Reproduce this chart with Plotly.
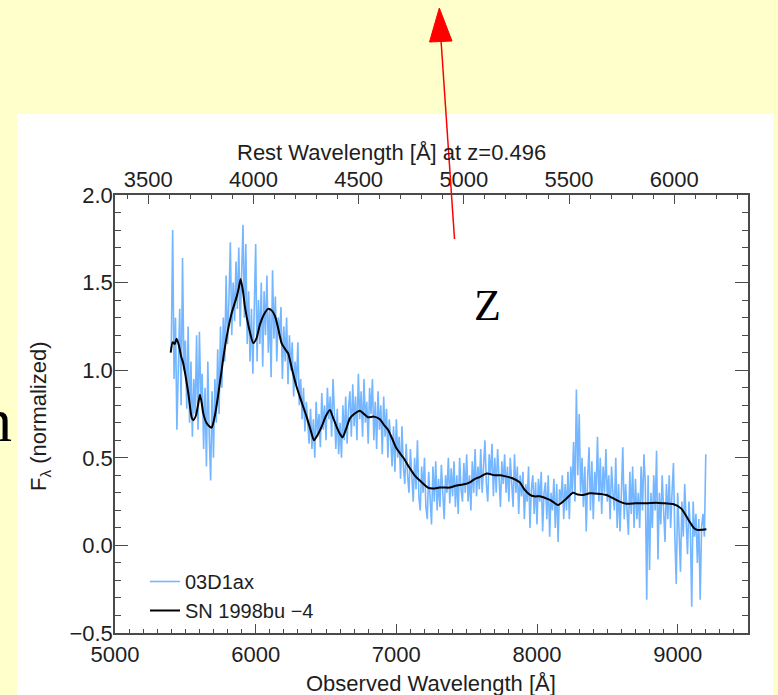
import plotly.graph_objects as go

# Redshift of 03D1ax
Z_SN = 0.496

# Observed spectrum of 03D1ax (observed wavelength [A], normalized flux), 10 A bins
obs_wave = list(range(5400, 9201, 10))
obs_flux = [
    1.12, 1.80, 0.95, 1.30, 0.66, 1.05, 1.35, 0.80, 1.64, 1.00,
    1.17, 0.78, 1.25, 0.70, 1.05, 0.62, 0.95, 0.75, 1.20, 0.66,
    1.22, 0.85, 0.98, 0.55, 0.90, 0.45, 1.05, 0.62, 0.37, 0.88,
    0.50, 0.95, 0.70, 1.12, 0.75, 1.25, 0.90, 1.30, 1.05, 1.54,
    1.15, 1.40, 1.73, 1.20, 1.50, 1.28, 1.62, 1.35, 1.70, 1.25,
    1.55, 1.83, 1.30, 1.72, 1.15, 1.45, 1.05, 1.35, 0.98, 1.30,
    1.72, 1.05, 1.40, 1.15, 1.50, 1.02, 1.45, 1.20, 1.54, 1.10,
    1.35, 0.96, 1.57, 1.18, 1.42, 1.05, 1.30, 1.20, 1.36, 0.95,
    1.25, 1.05, 1.30, 0.92, 1.20, 1.00, 1.16, 0.85, 1.05, 0.92,
    1.16, 0.80, 0.95, 0.72, 0.90, 0.65, 0.82, 0.70, 0.58, 0.78,
    0.55, 0.72, 0.50, 0.82, 0.62, 0.75, 0.56, 0.87, 0.66, 0.80,
    0.60, 0.90, 0.72, 0.85, 0.62, 0.95, 0.70, 0.55, 0.78, 0.52,
    0.70, 0.50, 0.80, 0.60, 0.85, 0.58, 0.78, 0.88, 0.62, 0.92,
    0.68, 0.85, 0.60, 0.98, 0.72, 0.88, 0.62, 0.95, 0.70, 0.82,
    0.58, 0.90, 0.75, 0.95, 0.60, 0.82, 0.55, 0.88, 0.66, 0.80,
    0.52, 0.85, 0.62, 0.78, 0.50, 0.72, 0.60, 0.45, 0.68, 0.42,
    0.72, 0.50, 0.62, 0.38, 0.68, 0.45, 0.35, 0.58, 0.40, 0.30,
    0.55, 0.38, 0.25, 0.50, 0.32, 0.60, 0.28, 0.20, 0.45, 0.30,
    0.50, 0.22, 0.15, 0.42, 0.30, 0.12, 0.45, 0.25, 0.48, 0.20,
    0.38, 0.22, 0.46, 0.28, 0.15, 0.40, 0.30, 0.50, 0.24, 0.44,
    0.28, 0.48, 0.22, 0.40, 0.18, 0.50, 0.32, 0.25, 0.47, 0.30,
    0.52, 0.25, 0.40, 0.20, 0.48, 0.30, 0.55, 0.28, 0.45, 0.32,
    0.55, 0.30, 0.48, 0.60, 0.35, 0.25, 0.52, 0.40, 0.58, 0.28,
    0.50, 0.30, 0.55, 0.38, 0.22, 0.48, 0.35, 0.52, 0.30, 0.45,
    0.25, 0.50, 0.38, 0.22, 0.52, 0.30, 0.45, 0.18, 0.40, 0.28,
    0.42, 0.15, 0.35, 0.25, 0.45, 0.10, 0.32, 0.40, 0.18, 0.36,
    0.12, 0.38, 0.25, 0.42, 0.08, 0.30, 0.36, 0.15, 0.40, 0.05,
    0.30, 0.20, 0.38, 0.10, 0.35, 0.02, 0.32, 0.25, 0.40, 0.15,
    0.35, 0.20, 0.42, 0.15, 0.45, 0.30, 0.59, 0.25, 0.89, 0.40,
    0.75, 0.30, 0.50, 0.22, 0.45, 0.08, 0.38, 0.56, 0.20, 0.48,
    0.15, 0.42, 0.30, 0.62, 0.25, 0.50, 0.18, 0.45, 0.30, 0.55,
    0.25, 0.40, 0.15, 0.45, 0.30, 0.20, 0.50, 0.10, 0.35, 0.08,
    0.30, 0.56, 0.15, 0.35, 0.20, 0.06, 0.42, 0.18, 0.45, 0.10,
    0.38, 0.15, 0.30, 0.10, 0.45, 0.20, 0.52, 0.35, -0.31, 0.40,
    -0.14, 0.30, 0.10, 0.40, 0.20, 0.54, -0.08, 0.30, 0.12, 0.40,
    0.20, 0.02, 0.35, 0.15, 0.40, 0.10, 0.30, 0.47, 0.05, -0.22,
    0.30, 0.10, -0.15, 0.25, 0.05, 0.35, 0.15, -0.05, 0.25, 0.10,
    -0.35, 0.25, 0.05, 0.18, -0.10, 0.15, -0.31, 0.10, 0.18, 0.05,
    0.52,
]

# SN 1998bu template at -4 days, redshifted to z=0.496 (observed wavelength [A])
tmpl_wave = [
    5396, 5410, 5425, 5438, 5455, 5470, 5485, 5503, 5521, 5545,
    5556, 5575, 5590, 5604, 5615, 5627, 5650, 5670, 5687, 5710,
    5730, 5746, 5770, 5794, 5829, 5850, 5865, 5880, 5893, 5910,
    5924, 5950, 5983, 6005, 6030, 6060, 6089, 6115, 6137, 6160,
    6184, 6210, 6231, 6260, 6291, 6330, 6362, 6390, 6414, 6440,
    6469, 6500, 6528, 6550, 6575, 6600, 6618, 6645, 6670, 6700,
    6741, 6770, 6800, 6840, 6883, 6910, 6942, 6970, 7001, 7050,
    7096, 7130, 7167, 7224, 7260, 7309, 7340, 7380, 7420, 7451,
    7490, 7522, 7560, 7593, 7643, 7700, 7740, 7771, 7821, 7877,
    7910, 7948, 7980, 8020, 8060, 8091, 8120, 8150, 8200, 8256,
    8290, 8327, 8375, 8430, 8493, 8540, 8588, 8635, 8700, 8778,
    8849, 8910, 8967, 9026, 9085, 9115, 9144, 9175, 9204,
]
tmpl_flux = [
    1.10, 1.16, 1.15, 1.18, 1.14, 1.08, 1.04, 0.96, 0.87, 0.73,
    0.715, 0.74, 0.80, 0.86, 0.82, 0.755, 0.70, 0.68, 0.672, 0.74,
    0.84, 0.93, 1.07, 1.19, 1.325, 1.38, 1.42, 1.47, 1.52, 1.45,
    1.36, 1.25, 1.155, 1.18, 1.26, 1.32, 1.35, 1.34, 1.31, 1.24,
    1.155, 1.12, 1.096, 1.00, 0.906, 0.81, 0.735, 0.66, 0.60, 0.63,
    0.678, 0.74, 0.773, 0.73, 0.678, 0.635, 0.617, 0.67, 0.725, 0.75,
    0.769, 0.75, 0.731, 0.735, 0.72, 0.69, 0.659, 0.61, 0.554, 0.50,
    0.44, 0.40, 0.37, 0.33, 0.325, 0.33, 0.33, 0.33, 0.34, 0.345,
    0.35, 0.36, 0.38, 0.39, 0.41, 0.40, 0.40, 0.395, 0.385, 0.36,
    0.32, 0.29, 0.28, 0.28, 0.27, 0.26, 0.245, 0.23, 0.26, 0.30,
    0.29, 0.288, 0.297, 0.295, 0.288, 0.27, 0.25, 0.238, 0.24, 0.24,
    0.244, 0.24, 0.236, 0.21, 0.135, 0.10, 0.088, 0.09, 0.092,
]
# Template plotted against the rest-frame axis
tmpl_rest = [w / (1 + Z_SN) for w in tmpl_wave]

obs_range = [5000, 9500]
rest_range = [obs_range[0] / (1 + Z_SN), obs_range[1] / (1 + Z_SN)]

W, H = 778, 695
L, R, T, B = 115, 748, 195, 633   # plot-area edges in pixels


def px(x):
    return (x - L) / (R - L)


def py(y):
    return (B - y) / (B - T)


FONT = "Liberation Sans, Arial, Helvetica, sans-serif"
SERIF = "Liberation Serif, Times New Roman, serif"
AXC = "#4a4a4a"
TXT = "#1e1e1e"
FS = 22

fig = go.Figure()
fig.add_trace(go.Scatter(
    x=obs_wave, y=obs_flux, mode="lines", name="03D1ax",
    line=dict(color="#74B6FF", width=1.6), xaxis="x", yaxis="y",
))
fig.add_trace(go.Scatter(
    x=tmpl_rest, y=tmpl_flux, mode="lines", name="SN 1998bu \u22124",
    line=dict(color="black", width=2, shape="spline", smoothing=0.6),
    xaxis="x2", yaxis="y",
))

tick_common = dict(
    ticks="inside", tickcolor=AXC, tickwidth=1.3,
    showline=True, linecolor=AXC, linewidth=1.5,
    showgrid=False, zeroline=False,
    tickfont=dict(family=FONT, size=FS, color=TXT),
)

fig.update_layout(
    width=W, height=H, autosize=False,
    margin=dict(l=L, r=W - R, t=T, b=H - B, pad=0),
    paper_bgcolor="#FFFFCC", plot_bgcolor="white",
    font=dict(family=FONT, color=TXT),
    xaxis=dict(
        range=obs_range, tick0=5000, dtick=1000, ticklen=9,
        ticklabelstandoff=1,
        minor=dict(dtick=100, ticklen=4.5, ticks="inside", tickcolor=AXC, tickwidth=1.1),
        **tick_common,
    ),
    xaxis2=dict(
        range=rest_range, overlaying="x", side="top", anchor="y",
        tick0=3500, dtick=500, ticklen=9, ticklabelstandoff=-3,
        minor=dict(dtick=100, ticklen=4.5, ticks="inside", tickcolor=AXC, tickwidth=1.1),
        **tick_common,
    ),
    yaxis=dict(
        range=[-0.5, 2.0], tick0=0, dtick=0.5, tickformat=".1f", ticklen=13,
        mirror="ticks", ticklabelstandoff=-4,
        minor=dict(dtick=0.1, ticklen=6.5, ticks="inside", tickcolor=AXC, tickwidth=1.1),
        **tick_common,
    ),
    legend=dict(
        x=px(145), y=py(562), xanchor="left", yanchor="top",
        bgcolor="rgba(0,0,0,0)", borderwidth=0,
        font=dict(family=FONT, size=20, color=TXT),
        tracegroupgap=0,
    ),
    showlegend=True,
)

# White slide panel behind the chart and the pointer arrow above it
fig.add_shape(type="rect", xref="paper", yref="paper",
              x0=px(17), x1=px(773), y0=py(H), y1=py(114),
              fillcolor="white", line=dict(width=0), layer="below")
fig.add_shape(type="line", xref="paper", yref="paper",
              x0=px(454.5), y0=py(239), x1=px(441), y1=py(40),
              line=dict(color="#FF0000", width=1.5), layer="above")
fig.add_shape(type="path", xref="paper", yref="paper",
              path=(f"M {px(439.3)},{py(8)} L {px(429.5)},{py(42)} "
                    f"L {px(452)},{py(41)} Z"),
              fillcolor="#FF0000", line=dict(color="#FF0000", width=1), layer="above")

annotations = [
    dict(text="Rest Wavelength [\u00c5] at z=0.496", x=px(391), y=py(152),
         font=dict(family=FONT, size=FS, color=TXT)),
    dict(text="Observed Wavelength [\u00c5]", x=px(431), y=py(683),
         font=dict(family=FONT, size=FS, color=TXT)),
    dict(text="F<sub>\u03bb</sub> (normalized)", x=px(40), y=py(416), textangle=-90,
         font=dict(family=FONT, size=FS, color=TXT)),
    dict(text="Z", x=px(487), y=py(305),
         font=dict(family=SERIF, size=44, color="black")),
    dict(text="n", x=px(14), y=py(420), xanchor="right",
         font=dict(family=SERIF, size=62, color="black")),
]
for a in annotations:
    a.setdefault("xanchor", "center")
    fig.add_annotation(xref="paper", yref="paper", yanchor="middle",
                       showarrow=False, **a)

fig.write_html("out.html")
